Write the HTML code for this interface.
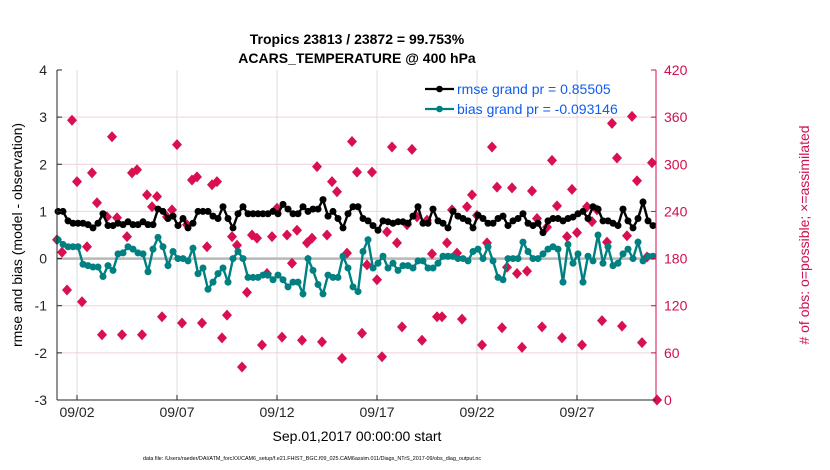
<!DOCTYPE html>
<html><head><meta charset="utf-8">
<style>
html,body{margin:0;padding:0;background:#fff;}
svg{display:block;font-family:"Liberation Sans",sans-serif;}
</style></head>
<body>
<svg id="chart" width="830" height="470" viewBox="0 0 830 470" xmlns="http://www.w3.org/2000/svg">
  <text x="357" y="44" text-anchor="middle" font-size="14" font-weight="bold">Tropics 23813 / 23872 = 99.753%</text>
  <text x="357" y="63" text-anchor="middle" font-size="14" font-weight="bold">ACARS_TEMPERATURE @ 400 hPa</text>
  <g id="grid"></g>
  <g id="marks"></g>
  <g id="axes"></g>
  <text transform="translate(22,235) rotate(-90)" text-anchor="middle" font-size="14">rmse and bias (model - observation)</text>
  <text transform="translate(809,235) rotate(-90)" text-anchor="middle" font-size="14" fill="#d0104c"># of obs: o=possible; ×=assimilated</text>
  <text x="357" y="441" text-anchor="middle" font-size="14">Sep.01,2017 00:00:00 start</text>
  <text x="312" y="460" text-anchor="middle" font-size="5.4">data file: /Users/raeder/DAI/ATM_forcXX/CAM6_setup/f.e21.FHIST_BGC.f09_025.CAM6assim.011/Diags_NTrS_2017-09/obs_diag_output.nc</text>
  <g id="legend"></g>
</svg>
<script>
const rmse = [1.0,1.0,0.8,0.75,0.75,0.75,0.72,0.65,0.75,0.95,0.7,0.7,0.75,0.72,0.78,0.72,0.72,0.78,0.72,0.72,1.05,1.0,0.85,0.9,0.7,0.85,0.65,0.75,1.0,1.0,1.0,0.9,0.85,1.1,0.85,0.65,0.95,1.1,0.95,0.95,0.95,0.95,0.95,1.0,0.95,1.15,1.05,0.95,0.95,1.1,1.0,1.05,1.05,1.25,0.9,1.0,0.85,0.65,0.95,1.1,1.1,
0.85,0.8,0.7,0.6,0.8,0.78,0.75,0.78,0.78,0.75,0.9,1.1,0.75,0.75,1.05,0.8,0.75,0.65,1.0,0.9,0.85,0.8,0.65,0.92,0.85,0.75,0.75,0.85,0.9,0.7,0.8,0.85,0.95,0.75,0.7,0.75,0.55,0.8,0.85,0.85,0.8,0.85,0.88,0.95,1.0,0.85,1.1,1.05,0.8,0.8,0.75,0.7,1.05,0.8,0.65,0.85,1.2,0.8,0.7];
const bias = [0.4,0.3,0.25,0.25,0.25,-0.12,-0.15,-0.18,-0.18,-0.38,-0.15,-0.25,0.1,0.12,0.25,0.2,0.12,0.1,-0.28,0.2,0.45,0.25,-0.15,0.15,0.0,0.0,-0.05,0.22,-0.32,-0.2,-0.65,-0.5,-0.32,-0.2,-0.5,0.0,0.15,0.0,-0.4,-0.4,-0.4,-0.35,-0.35,-0.45,-0.35,-0.45,-0.6,-0.5,-0.5,-0.75,0.0,-0.25,-0.55,-0.75,-0.35,-0.4,-0.4,0.05,-0.2,-0.6,-0.7,
0.15,0.4,-0.2,-0.1,0.05,-0.2,-0.1,-0.25,-0.15,-0.15,-0.2,-0.05,-0.05,-0.2,-0.2,-0.1,0.05,0.05,0.05,0.0,0.0,-0.05,0.15,0.2,0.0,0.25,-0.05,-0.4,-0.45,0.0,0.0,0.0,0.35,0.15,0.0,0.0,0.1,0.2,0.25,0.2,-0.5,0.3,-0.1,0.1,-0.5,0.05,-0.05,0.5,-0.1,0.25,-0.15,-0.1,0.1,0.2,0.0,0.35,-0.05,0.05,0.05];
const nobs = [204,188,140,356,278,125,195,289,251,83,233,335,232,83,208,289,293,83,261,246,259,106,233,242,325,98,223,280,284,98,195,274,278,79,108,208,197,42,137,210,206,70,161,208,244,80,210,174,216,76,200,206,297,74,210,278,265,53,187,329,290,85,
172,290,153,55,214,322,200,93,223,319,233,76,229,186,106,106,200,242,187,103,246,261,235,70,200,322,271,92,169,270,161,67,164,266,231,93,220,305,247,79,208,268,213,70,246,227,242,101,201,352,308,94,209,361,279,73,182,302,0];
const xTickLabels = ["09/02","09/07","09/12","09/17","09/22","09/27"];
const xTickDays = [1,6,11,16,21,26];
const yTickLabels = [-3,-2,-1,0,1,2,3,4];
const rTickLabels = [0,60,120,180,240,300,360,420];

const L=57,R=656,T=70,B=400;
const xDay = d => L + 20*d;
const yL = v => B - (v+3)/7*(B-T);
const yR = v => B - v/420*(B-T);
const NS="http://www.w3.org/2000/svg";
function mk(tag,attrs,parent){const e=document.createElementNS(NS,tag);for(const k in attrs)e.setAttribute(k,attrs[k]);parent.appendChild(e);return e;}
const grid=document.getElementById('grid'),marks=document.getElementById('marks'),axes=document.getElementById('axes'),legend=document.getElementById('legend');

mk('rect',{x:L,y:T,width:R-L,height:B-T,fill:'#fff'},grid);
xTickDays.forEach((d,i)=>{
  const x=xDay(d);
  let g=mk('line',{x1:x,x2:x,y1:T,y2:B,stroke:'#dcdcdc','stroke-width':1},grid);
  
  
  mk('line',{x1:x,x2:x,y1:B,y2:B-5,stroke:'#262626'},axes);
  let lb=mk('text',{x:x,y:B+17,'text-anchor':'middle','font-size':14,fill:'#262626'},axes);
  lb.textContent=xTickLabels[i];
  
  
});
rTickLabels.forEach((v,i)=>{
  const y=yR(v);
  if(v>0&&v<420){let g=mk('line',{x1:L,x2:R,y1:y,y2:y,stroke:'#f2d0dc','stroke-width':1},grid);
  
  }
  mk('line',{x1:R,x2:R-5,y1:y,y2:y,stroke:'#d0104c'},axes);
  let lb=mk('text',{x:R+8,y:y+5,'font-size':14,fill:'#d0104c'},axes);
  lb.textContent=v;
  
  
});
yTickLabels.forEach(v=>{
  const y=yL(v);
  mk('line',{x1:L,x2:L+5,y1:y,y2:y,stroke:'#262626'},axes);
  let lb=mk('text',{x:L-10,y:y+5,'text-anchor':'end','font-size':14,fill:'#262626'},axes);
  lb.textContent=v;
  
  
});
mk('line',{x1:L,x2:R,y1:yL(0),y2:yL(0),stroke:'#b8b8b8','stroke-width':2.5},grid);
mk('line',{x1:L,x2:L,y1:T,y2:B,stroke:'#262626'},axes);
mk('line',{x1:L,x2:R,y1:B,y2:B,stroke:'#262626'},axes);
mk('line',{x1:R,x2:R,y1:T,y2:B,stroke:'#d0104c'},axes);

nobs.forEach((v,i)=>{
  const x=xDay(i*0.25),y=yR(v);
  let p=mk('path',{d:`M${x},${y-5.5}L${x+5},${y}L${x},${y+5.5}L${x-5},${y}Z`,fill:'#d8104f'},marks);
  
  
});
function series(arr,color,name){
  const pts=arr.map((v,i)=>[xDay(0.05+i*0.25),yL(v)]);
  let pl=mk('polyline',{points:pts.map(p=>p.join(',')).join(' '),fill:'none',stroke:color,'stroke-width':2.4},marks);
  
  
  pts.forEach(p=>{
    let c=mk('circle',{cx:p[0],cy:p[1],r:3.5,fill:color},marks);
    
    
  });
}
series(bias,'#008080','bias');
series(rmse,'#000000','rmse');

[['#000','rmse grand pr = 0.85505',89],['#008080','bias grand pr = -0.093146',109]].forEach((e,i)=>{
  mk('line',{x1:425,x2:454,y1:e[2],y2:e[2],stroke:e[0],'stroke-width':2.2},legend);
  mk('circle',{cx:439.5,cy:e[2],r:3.3,fill:e[0]},legend);
  let t=mk('text',{x:457,y:e[2]+5,'font-size':14,fill:'#0f5cf0'},legend);
  t.textContent=e[1];
  
  
});
</script>
</body></html>
